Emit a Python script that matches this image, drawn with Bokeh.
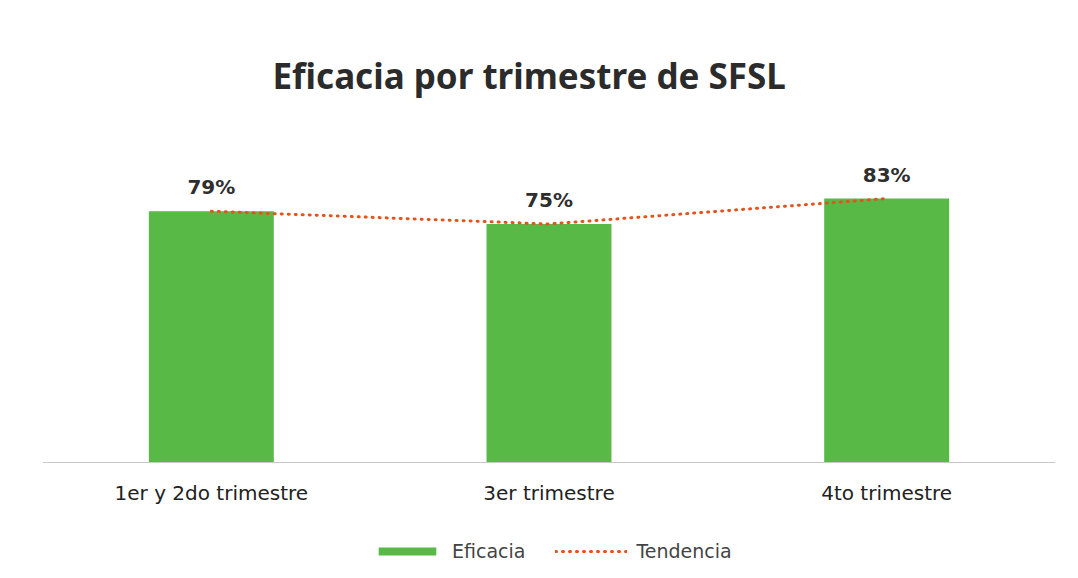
from bokeh.plotting import figure
from bokeh.models import ColumnDataSource, Legend, LegendItem, Range1d, FactorRange
from bokeh.core.properties import value
from bokeh.embed import file_html
from bokeh.resources import INLINE

categories = ["1er y 2do trimestre", "3er trimestre", "4to trimestre"]
eficacia = [79, 75, 83]
tendencia = [79, 75, 83]
labels = ["79%", "75%", "83%"]

src = ColumnDataSource(dict(cat=categories, ef=eficacia, tr=tendencia, lab=labels))

p = figure(width=1062, height=562, x_range=FactorRange(*categories, range_padding=0.0),
           y_range=Range1d(-31.45, 100), output_backend="svg", toolbar_location=None,
           min_border_left=42, min_border_right=7, min_border_top=144, min_border_bottom=0)

p.title.text = "Eficacia por trimestre de SFSL"
p.title.text_font = "Noto Sans"
p.title.text_font_size = "35px"
p.title.text_font_style = "bold"
p.title.text_color = "#2b2b2b"
p.title.align = "left"
p.title.offset = 230
p.title.standoff = 92

bars = p.vbar(x="cat", top="ef", bottom=0, width=0.37, source=src,
              fill_color="#58b947", line_color=None)
trend = p.line(x="cat", y="tr", source=src, line_color="#e2541c", line_width=3,
               line_dash="1 6", line_cap="round")
p.text(x="cat", y="ef", text="lab", source=src, text_align="center", text_baseline="middle",
       y_offset=-24, text_font=value("DejaVu Sans"), text_font_size="20px",
       text_color="#2e2e2e", text_font_style="bold")

p.yaxis.visible = False
p.xgrid.grid_line_color = None
p.ygrid.grid_line_color = None
p.outline_line_color = None
p.xaxis.fixed_location = 0
p.xaxis.axis_line_color = "#c8c8c8"
p.xaxis.major_tick_line_color = None
p.xaxis.minor_tick_line_color = None
p.xaxis.major_label_standoff = 13
p.xaxis.major_label_text_font = "DejaVu Sans"
p.xaxis.major_label_text_font_size = "20px"
p.xaxis.major_label_text_color = "#222222"

legend = Legend(items=[LegendItem(label="Eficacia", renderers=[bars]),
                       LegendItem(label="Tendencia", renderers=[trend])],
                orientation="horizontal", location=(329, 0),
                label_text_font="DejaVu Sans", label_text_font_size="19px",
                label_text_color="#444444", glyph_width=72, glyph_height=10,
                label_standoff=9, spacing=30, padding=5, margin=0,
                border_line_color=None, background_fill_alpha=0)
p.add_layout(legend, "center")

open("out.html", "w").write(file_html(p, INLINE))
